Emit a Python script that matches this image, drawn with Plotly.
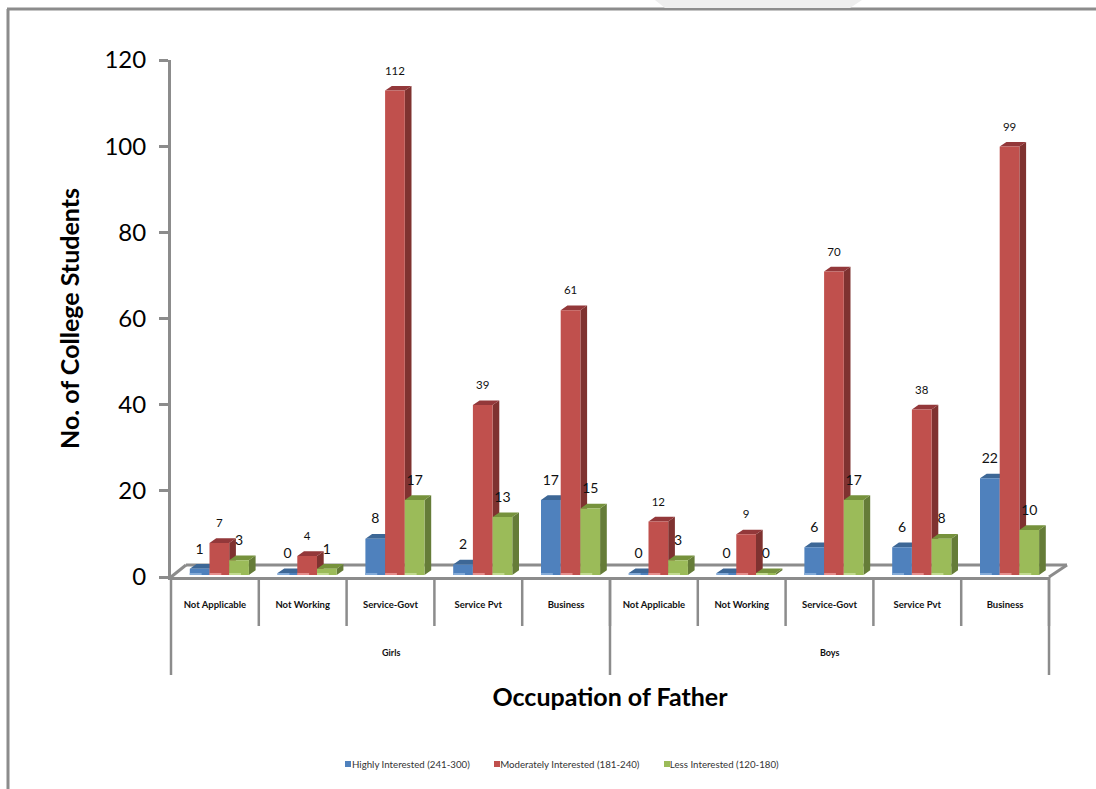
import plotly.graph_objects as go

occupations = ['Not Applicable', 'Not Working', 'Service-Govt', 'Service Pvt', 'Business',
               'Not Applicable', 'Not Working', 'Service-Govt', 'Service Pvt', 'Business']
groups = ['Girls', 'Boys']

highly = [1, 0, 8, 2, 17, 0, 0, 6, 6, 22]
moderately = [7, 4, 112, 39, 61, 12, 9, 70, 38, 99]
less = [3, 1, 17, 13, 15, 3, 0, 17, 8, 10]

series = [
    dict(name='Highly Interested (241-300)', values=highly, front='#4f81bd', side='#3a6190',
         cap='#3d6796', glow='#84abd8', size=14, swatch=345),
    dict(name='Moderately Interested (181-240)', values=moderately, front='#c0504d', side='#7f3230',
         cap='#93383a', glow='#e58f8d', size=11.5, swatch=494),
    dict(name='Less Interested (120-180)', values=less, front='#9bbb59', side='#657c38',
         cap='#76923c', glow='#c2da90', size=14, swatch=664),
]

GRAY = '#8c8c8c'

# plot box in pixels
W, H = 1096, 789
L, R, T, B = 171, 1049, 60, 577
px_x = (R - L) / 10
px_y = (B - T) / 120

# bar geometry in axis units
bar_w = 19.7 / px_x
bar_start = 18.8 / px_x
dep_x = 6.7 / px_x
dep_y = 4.7 / px_y
base = 0.45
lift = 0.9


def paper_x(px):
    return (px - L) / (R - L)


def paper_y(px):
    return (B - px) / (B - T)


def polys(values, s_idx, kind):
    xs, ys = [], []
    for i, v in enumerate(values):
        x0 = i + bar_start + s_idx * bar_w
        x1 = x0 + bar_w
        top = v + lift
        if kind == 'side':
            px, py = [x1, x1, x1 + dep_x, x1 + dep_x, x1], [base, top, top + dep_y, base + dep_y, base]
        elif kind == 'cap':
            px, py = [x0, x1, x1 + dep_x, x0 + dep_x, x0], [top, top, top + dep_y, top + dep_y, top]
        elif kind == 'front':
            px, py = [x0, x1, x1, x0, x0], [base, base, top, top, base]
        else:
            gx = x0 + bar_w * 0.6
            px, py = [x0, gx, gx, x0, x0], [base, base, base + 0.45, base + 0.45, base]
        xs += px + [None]
        ys += py + [None]
    return xs, ys


fig = go.Figure()

for k, s in enumerate(series):
    for kind, color in [('side', s['side']), ('cap', s['cap']), ('front', s['front']), ('glow', s['glow'])]:
        xs, ys = polys(s['values'], k, kind)
        fig.add_trace(go.Scatter(x=xs, y=ys, mode='lines', fill='toself', fillcolor=color,
                                 line=dict(width=0, color=color), hoverinfo='skip', showlegend=False))

for k, s in enumerate(series):
    fig.add_trace(go.Scatter(
        x=[i + bar_start + (k + 0.5) * bar_w for i in range(10)],
        y=[v + lift + 4.35 for v in s['values']],
        mode='text', text=[str(v) for v in s['values']], textposition='middle center',
        textfont=dict(family='Lato', size=s['size'], color='#111111'),
        hoverinfo='skip', showlegend=False, cliponaxis=False))

# legend names; the swatches sit tight against the text so they are drawn as shapes below
for s in series:
    fig.add_trace(go.Scatter(x=[None], y=[None], mode='markers', name=s['name'],
                             marker=dict(symbol='square', size=7, color='rgba(0,0,0,0)')))

shapes = []


def add_line(x0, y0, x1, y1, width=3, color=GRAY):
    shapes.append(dict(type='line', xref='paper', yref='paper', layer='below',
                       x0=paper_x(x0), y0=paper_y(y0), x1=paper_x(x1), y1=paper_y(y1),
                       line=dict(color=color, width=width)))


# outer frame
add_line(8, 9, 8, H)
add_line(7, 9, W, 9)
# floor
add_line(L, B, 186, 565)
add_line(186, 565, 1067, 565)
add_line(R, B, 1067, 565)
# category dividers
for i in range(1, 11):
    add_line(L + i * px_x, B, L + i * px_x, 626, width=2.5)
for px in [L, L + 5 * px_x, R]:
    add_line(px, B, px, 675, width=2.5)

# faint shape behind the top edge
shapes.append(dict(type='path', xref='paper', yref='paper', layer='below', line=dict(width=0),
                   fillcolor='#eeeeee',
                   path='M %f,%f L %f,%f L %f,%f L %f,%f Z' % (
                       paper_x(655), paper_y(0), paper_x(862), paper_y(0),
                       paper_x(850), paper_y(8), paper_x(665), paper_y(8))))

# legend swatches
for s in series:
    shapes.append(dict(type='rect', xref='paper', yref='paper', line=dict(width=0), fillcolor=s['front'],
                       x0=paper_x(s['swatch']), x1=paper_x(s['swatch'] + 6),
                       y0=paper_y(767), y1=paper_y(761)))

annotations = [
    dict(text='<b>%s</b>' % g, x=2.5 + 5 * i, xref='x', y=paper_y(652), yref='paper', showarrow=False,
         font=dict(family='Lato', size=9, color='#111111'), xanchor='center', yanchor='middle')
    for i, g in enumerate(groups)
]

fig.update_layout(
    width=W, height=H,
    margin=dict(l=L, r=W - R, t=T, b=H - B, autoexpand=False),
    paper_bgcolor='white', plot_bgcolor='rgba(0,0,0,0)',
    shapes=shapes, annotations=annotations,
    font=dict(family='Lato', color='#111111'),
    showlegend=True,
    legend=dict(orientation='h', x=paper_x(327), xanchor='left', y=paper_y(764), yanchor='middle',
                font=dict(family='Lato', size=9.7, color='#333333'), itemwidth=30, indentation=-15,
                bgcolor='rgba(0,0,0,0)'),
    xaxis=dict(range=[0, 10], tickvals=[i + 0.5 for i in range(10)],
               ticktext=['<b>%s</b>' % o for o in occupations],
               tickfont=dict(family='Lato', size=9.5, color='#111111'),
               ticks='', ticklabelstandoff=17, showgrid=False, zeroline=False,
               showline=True, linecolor=GRAY, linewidth=3,
               title=dict(text='<b>Occupation of Father</b>', font=dict(family='Lato', size=25, color='#000000'),
                          standoff=80)),
    yaxis=dict(range=[0, 120], tickvals=[0, 20, 40, 60, 80, 100, 120],
               tickfont=dict(family='Lato', size=24, color='#000000'),
               ticks='outside', ticklen=9, tickwidth=2.5, tickcolor=GRAY, ticklabelstandoff=8,
               showgrid=False, zeroline=False, showline=True, linecolor=GRAY, linewidth=3,
               title=dict(text='<b>No. of College Students</b>', font=dict(family='Lato', size=25, color='#000000'),
                          standoff=18)),
)

fig.write_html('out.html', post_script="document.body.style.margin='0';",
               config=dict(displayModeBar=False))
